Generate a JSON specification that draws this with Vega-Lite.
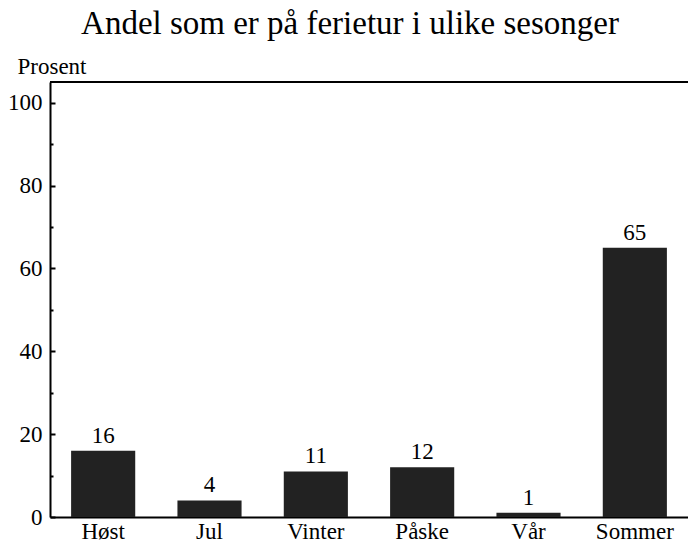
{
  "$schema": "https://vega.github.io/schema/vega-lite/v6.json",
  "width": 638,
  "height": 435,
  "autosize": {"type": "none"},
  "padding": {"left": 50, "top": 82, "right": 0, "bottom": 28},
  "background": "white",
  "config": {"view": {"stroke": null}, "font": "Liberation Serif"},
  "title": {
    "text": "Andel som er på ferietur i ulike sesonger",
    "fontSize": 33,
    "fontWeight": "normal",
    "font": "Liberation Serif",
    "color": "black",
    "anchor": "middle",
    "frame": "group",
    "dx": -19,
    "offset": 14
  },
  "data": {
    "values": [
      {"sesong": "Høst", "prosent": 16},
      {"sesong": "Jul", "prosent": 4},
      {"sesong": "Vinter", "prosent": 11},
      {"sesong": "Påske", "prosent": 12},
      {"sesong": "Vår", "prosent": 1},
      {"sesong": "Sommer", "prosent": 65}
    ]
  },
  "resolve": {"axis": {"y": "independent"}},
  "layer": [
    {
      "mark": {"type": "bar", "color": "#222222", "width": {"band": 0.67}},
      "encoding": {
        "x": {
          "field": "sesong", "type": "nominal", "sort": null,
          "axis": {
            "title": null, "labelAngle": 0, "labelFontSize": 23, "labelFontWeight": "normal", "labelColor": "black",
            "labelFont": "Liberation Serif", "ticks": false, "labelPadding": 3,
            "domainColor": "black", "domainWidth": 2
          }
        },
        "y": {
          "field": "prosent", "type": "quantitative",
          "scale": {"domain": [0, 105], "nice": false},
          "axis": {
            "orient": "left",
            "values": [0, 20, 40, 60, 80, 100],
            "grid": false,
            "title": "Prosent", "titleAngle": 0, "titleAlign": "left", "titleBaseline": "alphabetic",
            "titleX": -33, "titleY": -9, "titleFontSize": 23, "titleFontWeight": "normal",
            "titleColor": "black", "titleFont": "Liberation Serif",
            "labelFontSize": 23, "labelFontWeight": "normal", "labelColor": "black", "labelFont": "Liberation Serif",
            "tickSize": -5, "tickWidth": 2, "tickColor": "black", "labelPadding": 13,
            "domainColor": "black", "domainWidth": 2
          }
        }
      }
    },
    {
      "mark": {"type": "text", "fontSize": 23, "fontWeight": "normal", "baseline": "alphabetic", "dy": -8, "color": "black", "font": "Liberation Serif"},
      "encoding": {
        "x": {"field": "sesong", "type": "nominal", "sort": null},
        "y": {"field": "prosent", "type": "quantitative", "axis": null},
        "text": {"field": "prosent", "type": "quantitative"}
      }
    },
    {
      "mark": {"type": "rule", "color": "black", "strokeWidth": 2},
      "encoding": {
        "y": {
          "datum": 105, "type": "quantitative",
          "axis": {
            "orient": "left", "values": [10, 30, 50, 70, 90], "labels": false,
            "domain": false, "grid": false, "title": null,
            "tickSize": -3, "tickWidth": 2, "tickColor": "black"
          }
        }
      }
    }
  ]
}
